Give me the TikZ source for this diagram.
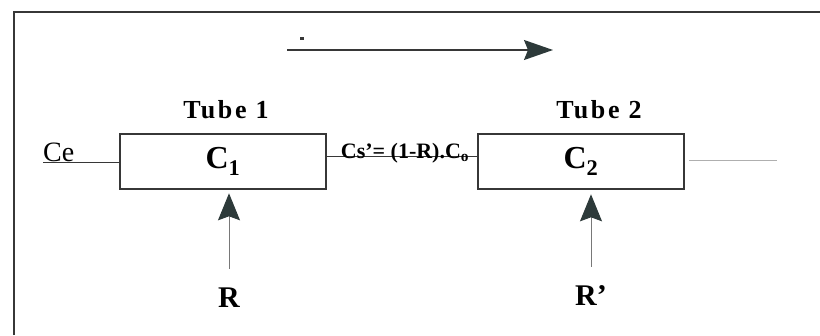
\documentclass[tikz,border=0pt]{standalone}
\usepackage{fontspec}
\setmainfont{Liberation Serif}
\newfontfamily\tubefont[LetterSpace=10]{Liberation Serif}
\usetikzlibrary{arrows.meta,positioning}
\usepackage{xcolor}
\definecolor{tbdark}{RGB}{45,58,58}
\definecolor{tbline}{RGB}{55,55,55}
\definecolor{tbgray}{RGB}{120,120,120}
\definecolor{tblight}{RGB}{175,175,175}
\tikzstyle{tube} = [rectangle, minimum width=206pt, minimum height=55pt, draw=tbline, line width=2.6pt, fill=white, inner sep=0pt, font=\fontsize{32}{36}\selectfont\bfseries]
\tikzstyle{tubelabel} = [anchor=base, inner sep=0pt, font=\fontsize{26}{30}\selectfont\tubefont\bfseries]
\tikzstyle{ratio} = [anchor=base, font=\fontsize{30}{34}\selectfont\bfseries]
\tikzstyle{feed} = [draw=tbgray, line width=1pt, -{Stealth[length=27pt,width=22pt,inset=4pt,color=tbdark]}]

\begin{document}
\begin{tikzpicture}[x=1pt, y=-1pt]
\useasboundingbox (0,0) rectangle (820,335);
% frame
\draw[tbline, line width=2pt] (14,335) -- (14,12) -- (820,12);

% flow direction
\coordinate (flowA) at (287,50);
\coordinate (flowB) at (553,50);
\draw[tbline, line width=1.6pt, -{Stealth[length=29pt,width=20pt,inset=4pt,color=tbdark]}] (flowA) -- (flowB);
\fill[tbline] (300,37) rectangle (304,39.5);

% tubes
\node[tube] (c1) at (223,161.5) {C\textsubscript{1}};
\node[tube] (c2) at (581,161.5) {C\textsubscript{2}};
\node[tubelabel] (t1) at (226,118) {Tube 1};
\node[tubelabel] (t2) at (599,118) {Tube 2};

% inlet
\node[anchor=base west, inner sep=0pt, font=\fontsize{28}{32}\selectfont] (ce) at (43,161) {Ce};
\draw[tbline, line width=1.2pt] ([yshift=-1.5pt]ce.base west) -- ([yshift=-1.5pt]ce.base west -| c1.west);

% between tubes
\draw[tbline, line width=1.2pt] ([yshift=5pt]c1.east) -- ([yshift=5pt]c2.west) coordinate[midway] (mid);
\node[anchor=base, inner sep=0pt, font=\fontsize{22}{24}\selectfont\bfseries] (cs) at ([xshift=3pt, yshift=-1.5pt]mid) {Cs’= (1-R).C\textsubscript{o}};

% outlet
\coordinate (out) at (777,160);
\draw[tblight, line width=1pt] ([xshift=4pt]c2.east |- out) -- (out);

% recycle ratios
\node[ratio] (r1) at (229,307) {R};
\node[ratio] (r2) at (591,305) {R’};
\draw[feed] ([yshift=15pt]r1.north) -- ([yshift=-3pt]r1.north |- c1.south);
\draw[feed] ([yshift=15pt]r2.north) -- ([yshift=-4pt]r2.north |- c2.south);
\end{tikzpicture}
\end{document}
